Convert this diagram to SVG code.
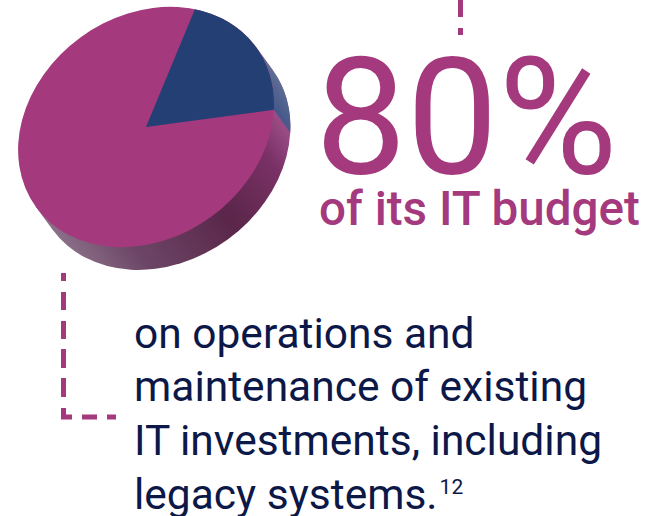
<svg xmlns="http://www.w3.org/2000/svg" width="648" height="516" viewBox="0 0 648 516">
  <style>
    .pink { fill: #a5397e; }
    .dash { stroke: #a5397e; stroke-width: 5; fill: none; }
    .big { font-family: Roboto, "Liberation Sans", sans-serif; fill: #a5397e; }
    .body { font-family: Roboto, "Liberation Sans", sans-serif; fill: #0c1848; font-size: 42.5px; }
  </style>
  <defs>
    <linearGradient id="sideGrad" x1="0" y1="0" x2="1" y2="0">
      <stop offset="0" stop-color="#8b6f88"/>
      <stop offset="0.2" stop-color="#6c4666"/>
      <stop offset="0.55" stop-color="#5a2649"/>
      <stop offset="0.8" stop-color="#7a3166"/>
      <stop offset="1" stop-color="#b2629c"/>
    </linearGradient>
    <linearGradient id="blueSide" x1="0" y1="0" x2="1" y2="0">
      <stop offset="0" stop-color="#44578a"/>
      <stop offset="1" stop-color="#5f6d94"/>
    </linearGradient>
  </defs>

  <g id="pie" transform="translate(146,127) rotate(-36)">
    <path d="M -136 0 L -136 28 A 136 111 0 0 0 136 28 L 136 0 Z" fill="url(#sideGrad)"/>
    <path d="M 136 0 L 136 28 A 136 111 0 0 1 113.5 89.2 L 113.5 61.2 A 136 111 0 0 0 136 0 Z" fill="url(#blueSide)"/>
    <ellipse cx="0" cy="0" rx="136" ry="111" class="pink"/>
    <path d="M 0 0 L 108.8 -66.6 A 136 111 0 0 1 113.5 61.2 Z" fill="#233f74"/>
  </g>

  <g id="connectors">
    <path class="dash" d="M 460.5 0 V 17 M 460.5 28 V 35"/>
    <path class="dash" d="M 63.5 273 V 281 M 63.5 292 V 310 M 63.5 321 V 339 M 63.5 349 V 368 M 63.5 378 V 397 M 63.5 408 V 417 H 72 M 82 417 H 97 M 107 417 H 116"/>
  </g>

  <g id="headline">
    <text class="big" x="315" y="173" font-size="163">80%</text>
    <text class="big" x="319" y="225" font-size="47.6" font-weight="500">of its IT budget</text>
  </g>

  <g id="caption">
    <text class="body" x="134" y="347.5">on operations and</text>
    <text class="body" x="134" y="401.3">maintenance of existing</text>
    <text class="body" x="134" y="455">IT investments, including</text>
    <text class="body" x="134" y="508.5">legacy systems.<tspan font-size="21" dy="-14.5" dx="2">12</tspan></text>
  </g>
</svg>
